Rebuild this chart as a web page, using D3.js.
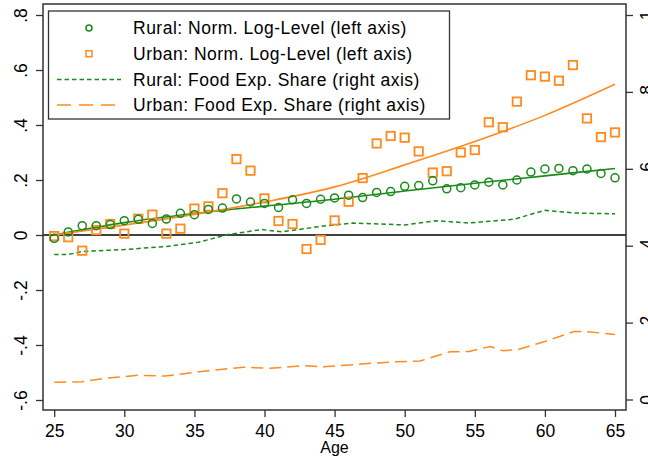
<!DOCTYPE html>
<html>
<head>
<meta charset="utf-8">
<script src="https://cdn.jsdelivr.net/npm/d3@7"></script>
<style>
  html, body { margin: 0; padding: 0; background: #fff; overflow: hidden; }
  svg { display: block; font-family: "Liberation Sans", Arial, sans-serif; }
</style>
</head>
<body>
<div class="chart"></div>
<script>
// canvas
var width = 648, height = 460;

// ages 25..65, one point per year
var ages = d3.range(25, 66);

// normalised log-levels (left axis)
var ruralLevel = [-0.012, 0.011, 0.034, 0.034, 0.038, 0.052, 0.057, 0.042, 0.058, 0.079,
  0.074, 0.093, 0.098, 0.131, 0.12, 0.115, 0.1, 0.128, 0.115, 0.13,
  0.135, 0.145, 0.136, 0.155, 0.158, 0.177, 0.18, 0.197, 0.168, 0.172,
  0.182, 0.192, 0.182, 0.2, 0.229, 0.24, 0.242, 0.234, 0.24, 0.224, 0.208];
var urbanLevel = [-0.004, -0.008, -0.057, 0.018, 0.04, 0.005, 0.059, 0.074, 0.005, 0.023,
  0.096, 0.104, 0.152, 0.276, 0.234, 0.133, 0.051, 0.04, -0.051, -0.018,
  0.053, 0.121, 0.207, 0.333, 0.36, 0.354, 0.304, 0.227, 0.232, 0.3,
  0.309, 0.41, 0.392, 0.485, 0.581, 0.576, 0.561, 0.618, 0.424, 0.356, 0.373];

// fitted curves (left axis), read every 5 years
var fitAges = [25, 30, 35, 40, 45, 50, 55, 60, 65];
var ruralFit = [0, 0.045, 0.078, 0.105, 0.13, 0.16, 0.188, 0.215, 0.242];
var urbanFit = [0, 0.036, 0.075, 0.12, 0.175, 0.255, 0.34, 0.435, 0.548];

// food expenditure shares (right axis)
var ruralShareAges = [25, 26, 27, 30, 33, 35.3, 37.4, 39.8, 41.2, 44.4, 46.3, 50, 52.2, 54.6, 57.8, 60, 62.1, 65];
var ruralShare = [0.377, 0.377, 0.385, 0.39, 0.398, 0.409, 0.429, 0.442, 0.436, 0.452, 0.459, 0.454, 0.465, 0.459, 0.469, 0.492, 0.485, 0.483];
var urbanShareAges = [25, 27, 28.6, 31, 32.9, 35.8, 38.5, 40.4, 42.8, 44.1, 47.6, 49.2, 51.1, 53.2, 54.6, 56.1, 57, 58.1, 60, 62.1, 62.9, 65];
var urbanShare = [0.045, 0.046, 0.055, 0.063, 0.061, 0.074, 0.084, 0.081, 0.088, 0.085, 0.094, 0.098, 0.1, 0.124, 0.125, 0.138, 0.127, 0.13, 0.151, 0.177, 0.177, 0.169];

// tick labels
var xTicks = [25, 30, 35, 40, 45, 50, 55, 60, 65];
var leftTicks = [-0.6, -0.4, -0.2, 0, 0.2, 0.4, 0.6, 0.8];
var rightTicks = [0, 0.2, 0.4, 0.6, 0.8, 1];

var legendItems = [
  {label: 'Rural: Norm. Log-Level (left axis)', kind: 'circle', color: '#1a8a1a'},
  {label: 'Urban: Norm. Log-Level (left axis)', kind: 'square', color: '#ff8a1e'},
  {label: 'Rural: Food Exp. Share (right axis)', kind: 'short', color: '#1a8a1a'},
  {label: 'Urban: Food Exp. Share (right axis)', kind: 'long', color: '#ff8a1e'}
];

var green = '#1a8a1a', orange = '#ff8a1e', frameCol = '#333';
var box = {left: 43, right: 626, top: 4, bottom: 410};

var x = d3.scaleLinear().domain([25, 65]).range([54.2, 615]);
var yL = d3.scaleLinear().domain([-0.6, 0.8]).range([400, 15]);
var yR = d3.scaleLinear().domain([0, 1]).range([399.5, 15]);

// stata style labels: .8, -.2, 0
function stataFmt(v) {
  if (v === 0) return '0';
  if (v === 1) return '1';
  return String(+v.toFixed(2)).replace('0.', '.');
}

var svg = d3.select('.chart').append('svg')
  .attr('width', width)
  .attr('height', height);

svg.append('rect').attr('width', width).attr('height', height).attr('fill', '#fff');

var plot = svg.append('g');

// zero line
plot.append('line')
  .attr('x1', box.left).attr('x2', box.right)
  .attr('y1', yL(0)).attr('y2', yL(0))
  .attr('stroke', '#000').attr('stroke-width', 1.5);

// share lines
var lineR = d3.line()
  .x(function (d) { return x(d[0]); })
  .y(function (d) { return yR(d[1]); });

plot.append('path')
  .datum(d3.zip(ruralShareAges, ruralShare))
  .attr('d', lineR)
  .attr('fill', 'none').attr('stroke', green).attr('stroke-width', 1.5)
  .attr('stroke-dasharray', '4.5,3');

plot.append('path')
  .datum(d3.zip(urbanShareAges, urbanShare))
  .attr('d', lineR)
  .attr('fill', 'none').attr('stroke', orange).attr('stroke-width', 1.5)
  .attr('stroke-dasharray', '12,6');

// fitted curves
var lineL = d3.line()
  .x(function (d) { return x(d[0]); })
  .y(function (d) { return yL(d[1]); })
  .curve(d3.curveMonotoneX);

plot.append('path')
  .datum(d3.zip(fitAges, ruralFit))
  .attr('d', lineL)
  .attr('fill', 'none').attr('stroke', green).attr('stroke-width', 1.6);

plot.append('path')
  .datum(d3.zip(fitAges, urbanFit))
  .attr('d', lineL)
  .attr('fill', 'none').attr('stroke', orange).attr('stroke-width', 1.6);

// markers
plot.selectAll('.sq')
  .data(d3.zip(ages, urbanLevel))
  .enter().append('rect')
  .attr('class', 'sq')
  .attr('x', function (d) { return x(d[0]) - 4.2; })
  .attr('y', function (d) { return yL(d[1]) - 4.2; })
  .attr('width', 8.4).attr('height', 8.4)
  .attr('fill', 'none').attr('stroke', orange).attr('stroke-width', 1.8);

plot.selectAll('.ci')
  .data(d3.zip(ages, ruralLevel))
  .enter().append('circle')
  .attr('class', 'ci')
  .attr('cx', function (d) { return x(d[0]); })
  .attr('cy', function (d) { return yL(d[1]); })
  .attr('r', 4)
  .attr('fill', 'none').attr('stroke', green).attr('stroke-width', 1.5);

// frame
svg.append('rect')
  .attr('x', box.left).attr('y', box.top)
  .attr('width', box.right - box.left).attr('height', box.bottom - box.top)
  .attr('fill', 'none').attr('stroke', frameCol).attr('stroke-width', 1.5);

// axes
var xAxis = svg.append('g')
  .attr('transform', 'translate(0,' + box.bottom + ')')
  .call(d3.axisBottom(x).tickValues(xTicks).tickSize(7).tickPadding(7.5).tickFormat(d3.format('d')));

var leftAxis = svg.append('g')
  .attr('transform', 'translate(' + box.left + ',0)')
  .call(d3.axisLeft(yL).tickValues(leftTicks).tickSize(7).tickFormat(stataFmt));

var rightAxis = svg.append('g')
  .attr('transform', 'translate(' + box.right + ',0)')
  .call(d3.axisRight(yR).tickValues(rightTicks).tickSize(7).tickFormat(stataFmt));

[xAxis, leftAxis, rightAxis].forEach(function (a) {
  a.select('.domain').remove();
  a.selectAll('line').attr('stroke', frameCol).attr('stroke-width', 1.3);
  a.selectAll('text').attr('fill', '#000').style('font-size', '17.5px')
    .style('font-family', '"Liberation Sans", Arial, sans-serif');
});

// rotated y labels, reading upward
leftAxis.selectAll('text')
  .attr('x', null).attr('dy', null)
  .attr('text-anchor', 'middle')
  .attr('transform', function () { return 'translate(-16,0) rotate(-90)'; });

rightAxis.selectAll('text')
  .attr('x', null).attr('dy', null)
  .attr('text-anchor', 'middle')
  .attr('transform', function () { return 'translate(27,0) rotate(-90)'; });

// axis title
svg.append('text')
  .attr('x', (box.left + box.right) / 2)
  .attr('y', 453)
  .attr('text-anchor', 'middle')
  .style('font-size', '16px')
  .attr('fill', '#000')
  .text('Age');

// legend
var lg = svg.append('g');
lg.append('rect')
  .attr('x', 48.5).attr('y', 11).attr('width', 401).attr('height', 108)
  .attr('fill', '#fff').attr('stroke', frameCol).attr('stroke-width', 1.3);

var rows = lg.selectAll('.row')
  .data(legendItems)
  .enter().append('g')
  .attr('transform', function (d, i) { return 'translate(0,' + (28 + i * 25.7) + ')'; });

rows.append('text')
  .attr('x', 133).attr('dy', '0.35em')
  .style('font-size', '17.5px')
  .style('letter-spacing', '0.5px')
  .attr('fill', '#000')
  .text(function (d) { return d.label; });

rows.each(function (d) {
  var g = d3.select(this);
  if (d.kind === 'circle') {
    g.append('circle').attr('cx', 89).attr('r', 3)
      .attr('fill', 'none').attr('stroke', d.color).attr('stroke-width', 1.5);
  } else if (d.kind === 'square') {
    g.append('rect').attr('x', 86).attr('y', -3).attr('width', 6).attr('height', 6)
      .attr('fill', 'none').attr('stroke', d.color).attr('stroke-width', 1.5);
  } else {
    g.append('line').attr('x1', 57).attr('x2', 121)
      .attr('stroke', d.color).attr('stroke-width', 1.5)
      .attr('stroke-dasharray', d.kind === 'short' ? '4.5,3' : '14,8');
  }
});
</script>
</body>
</html>
